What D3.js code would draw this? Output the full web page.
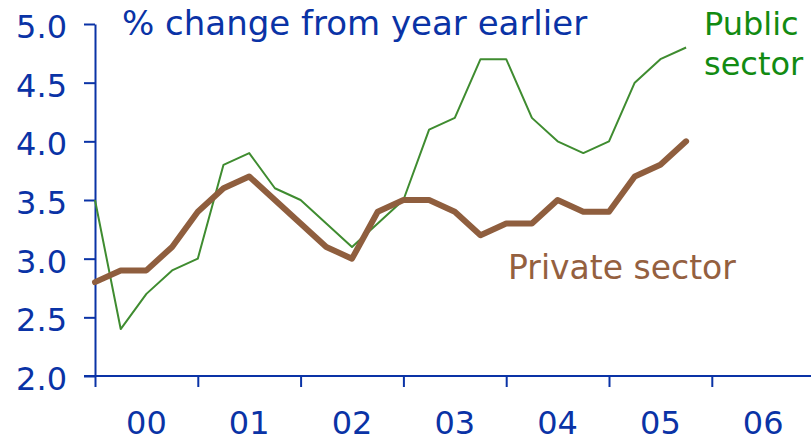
<!DOCTYPE html>
<html>
<head>
<meta charset="utf-8">
<script src="https://cdn.jsdelivr.net/npm/d3@7"></script>
<style>
  html, body { margin: 0; padding: 0; background: #ffffff; }
  svg { display: block; font-family: "DejaVu Sans", Verdana, sans-serif; }
</style>
</head>
<body>
<svg id="chart" width="811" height="442"></svg>
<script>
// Quarterly observations, 2000 Q1 to 2005 Q4
const quarters = [
  "2000Q1","2000Q2","2000Q3","2000Q4",
  "2001Q1","2001Q2","2001Q3","2001Q4",
  "2002Q1","2002Q2","2002Q3","2002Q4",
  "2003Q1","2003Q2","2003Q3","2003Q4",
  "2004Q1","2004Q2","2004Q3","2004Q4",
  "2005Q1","2005Q2","2005Q3","2005Q4"
];
const publicSector = [
  3.5, 2.4, 2.7, 2.9,
  3.0, 3.8, 3.9, 3.6,
  3.5, 3.3, 3.1, 3.3,
  3.5, 4.1, 4.2, 4.7,
  4.7, 4.2, 4.0, 3.9,
  4.0, 4.5, 4.7, 4.8
];
const privateSector = [
  2.8, 2.9, 2.9, 3.1,
  3.4, 3.6, 3.7, 3.5,
  3.3, 3.1, 3.0, 3.4,
  3.5, 3.5, 3.4, 3.2,
  3.3, 3.3, 3.5, 3.4,
  3.4, 3.7, 3.8, 4.0
];
const yearLabels = ["00", "01", "02", "03", "04", "05", "06"];
const yTicks = [2.0, 2.5, 3.0, 3.5, 4.0, 4.5, 5.0];

const blue = "#0a33a6";
const green = "#3f8c30";
const greenText = "#128b12";
const brown = "#8f5e3e";
const brownText = "#94603f";

const svg = d3.select("#chart");

const x = d3.scaleLinear().domain([0, 28]).range([95, 95 + 28 * 25.7]);
const y = d3.scaleLinear().domain([2.0, 5.0]).range([376, 24]);

// Y axis
const yAxis = d3.axisLeft(y)
  .tickValues(yTicks)
  .tickSize(11)
  .tickSizeOuter(0)
  .tickPadding(17)
  .tickFormat(d3.format(".1f"));
const gy = svg.append("g").attr("transform", "translate(95,0)").call(yAxis);
gy.select(".domain").attr("stroke", blue).attr("stroke-width", 2);
gy.selectAll(".tick line").attr("stroke", blue).attr("stroke-width", 2);
gy.selectAll(".tick text")
  .attr("fill", blue)
  .attr("font-size", 32)
  .attr("font-family", "DejaVu Sans, Verdana, sans-serif")
  .attr("dy", "0.42em");

// X axis
const yearIdx = d3.range(0, yearLabels.length).map(i => i * 4);
const xAxis = d3.axisBottom(x)
  .tickValues(yearIdx)
  .tickSize(11)
  .tickSizeOuter(0)
  .tickFormat("");
const gx = svg.append("g").attr("transform", "translate(0,376)").call(xAxis);
gx.select(".domain").attr("stroke", blue).attr("stroke-width", 2)
  .attr("d", `M84,0H811`);
gx.selectAll(".tick line").attr("stroke", blue).attr("stroke-width", 2);

// Year labels centred in each year
svg.append("g").selectAll("text")
  .data(yearLabels)
  .join("text")
  .attr("x", (d, i) => x(i * 4 + 2))
  .attr("y", 434)
  .attr("text-anchor", "middle")
  .attr("fill", blue)
  .attr("font-size", 32)
  .text(d => d);

// Lines
const line = d3.line()
  .x((d, i) => x(i))
  .y(d => y(d));

svg.append("path")
  .datum(publicSector)
  .attr("d", line)
  .attr("fill", "none")
  .attr("stroke", green)
  .attr("stroke-width", 2)
  .attr("stroke-linejoin", "round");

svg.append("path")
  .datum(privateSector)
  .attr("d", line)
  .attr("fill", "none")
  .attr("stroke", brown)
  .attr("stroke-width", 6)
  .attr("stroke-linejoin", "round")
  .attr("stroke-linecap", "round");

// Title
svg.append("text")
  .attr("x", 122)
  .attr("y", 35)
  .attr("fill", blue)
  .attr("font-size", 34)
  .text("% change from year earlier");

// Series labels
const pub = svg.append("text")
  .attr("x", 704)
  .attr("y", 35)
  .attr("fill", greenText)
  .attr("font-size", 32);
pub.append("tspan").attr("x", 704).attr("y", 35).text("Public");
pub.append("tspan").attr("x", 704).attr("y", 75).text("sector");

svg.append("text")
  .attr("x", 508)
  .attr("y", 279)
  .attr("fill", brownText)
  .attr("font-size", 33)
  .text("Private sector");
</script>
</body>
</html>
